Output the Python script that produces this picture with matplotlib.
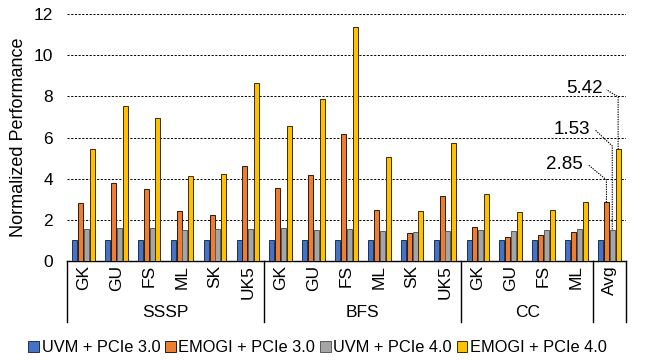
import matplotlib
matplotlib.use("Agg")
import matplotlib.pyplot as plt
import matplotlib.transforms as mtransforms
from matplotlib.patches import Patch
import numpy as np

plt.rcParams['font.family'] = ['Liberation Sans', 'DejaVu Sans']

# datasets per algorithm group
groups = ["SSSP", "BFS", "CC", ""]
group_sizes = [6, 6, 4, 1]
datasets = ["GK", "GU", "FS", "ML", "SK", "UK5",
            "GK", "GU", "FS", "ML", "SK", "UK5",
            "GK", "GU", "FS", "ML",
            "Avg"]

series_names = ["UVM + PCIe 3.0", "EMOGI + PCIe 3.0", "UVM + PCIe 4.0", "EMOGI + PCIe 4.0"]
colors = ["#4472C4", "#ED7D31", "#A5A5A5", "#FFC000"]
edges = ["#1F2F4F", "#2B1A0E", "#5A5A5A", "#3A2E00"]

uvm3 = [1.0] * 17
emogi3 = [2.81, 3.77, 3.48, 2.41, 2.24, 4.62,
          3.54, 4.18, 6.15, 2.49, 1.35, 3.15,
          1.67, 1.17, 1.25, 1.40,
          2.85]
uvm4 = [1.56, 1.61, 1.58, 1.53, 1.54, 1.54,
        1.58, 1.53, 1.54, 1.45, 1.40, 1.45,
        1.53, 1.48, 1.53, 1.56,
        1.53]
emogi4 = [5.46, 7.54, 6.94, 4.13, 4.21, 8.67,
          6.55, 7.87, 11.38, 5.04, 2.42, 5.71,
          3.25, 2.36, 2.49, 2.86,
          5.42]
series = [uvm3, emogi3, uvm4, emogi4]

fig = plt.figure(figsize=(6.52, 3.6), dpi=100)
ax = fig.add_axes([0.1028, 0.275, 0.857, 0.686])

x = np.arange(len(datasets))
step = 0.178
width = 0.152
for k, vals in enumerate(series):
    ax.bar(x + (k - 1.5) * step, vals, width, color=colors[k],
           edgecolor=edges[k], linewidth=0.7, zorder=3)

ax.set_xlim(-0.5, len(datasets) - 0.5)
ax.set_ylim(0, 12)
ax.set_yticks(np.arange(0, 13, 2))
ax.tick_params(axis='y', length=0, labelsize=12.5, pad=10)
ax.yaxis.grid(True, color='black', linestyle=(0, (2.2, 1.6)), linewidth=0.7)
ax.set_axisbelow(True)
for s in ["left", "right", "top"]:
    ax.spines[s].set_visible(False)
ax.spines["bottom"].set_linewidth(1.0)
ax.set_ylabel("Normalized Performance", fontsize=13, labelpad=5)

ax.set_xticks(x)
ax.set_xticklabels(datasets, rotation=90, fontsize=12.5, va='top')
ax.tick_params(axis='x', length=0, pad=3)

# group separators and group names under the axis
trans = mtransforms.blended_transform_factory(ax.transData, ax.transAxes)
bounds = np.concatenate([[0], np.cumsum(group_sizes)]) - 0.5
for b in bounds:
    ax.plot([b, b], [0, -0.247], transform=trans, color='black',
            linewidth=1.0, clip_on=False)
for name, lo, hi in zip(groups, bounds[:-1], bounds[1:]):
    if name:
        ax.text((lo + hi) / 2, -0.21, name, transform=trans, ha='center',
                va='center', fontsize=12.5)

# value callouts for the average group
avg = len(datasets) - 1
callouts = [
    (1, emogi3[avg], 3.94, 15.37, 4.71, 15.20),
    (2, uvm4[avg], 5.59, 15.58, 6.40, 15.43),
    (3, emogi4[avg], 7.97, 15.91, 8.38, 15.79),
]
for k, val, bend_y, end_x, text_y, text_x in callouts:
    bx = avg + (k - 1.5) * step
    ax.plot([bx, bx, end_x], [val, bend_y, text_y - 0.05], color='black',
            linestyle=(0, (1.2, 1.0)), linewidth=0.8, zorder=4)
    ax.text(text_x, text_y, f"{val:.2f}", ha='right', va='center', fontsize=13.5)

handles = [Patch(facecolor=c, edgecolor=e, linewidth=0.7) for c, e in zip(colors, edges)]
fig.legend(handles, series_names, loc='center', bbox_to_anchor=(0.487, 0.034),
           ncol=4, frameon=False, fontsize=11.8, handlelength=0.65, handleheight=0.65,
           handletextpad=0.15, columnspacing=0.3, borderaxespad=0)

fig.savefig("out.png", dpi=100)
